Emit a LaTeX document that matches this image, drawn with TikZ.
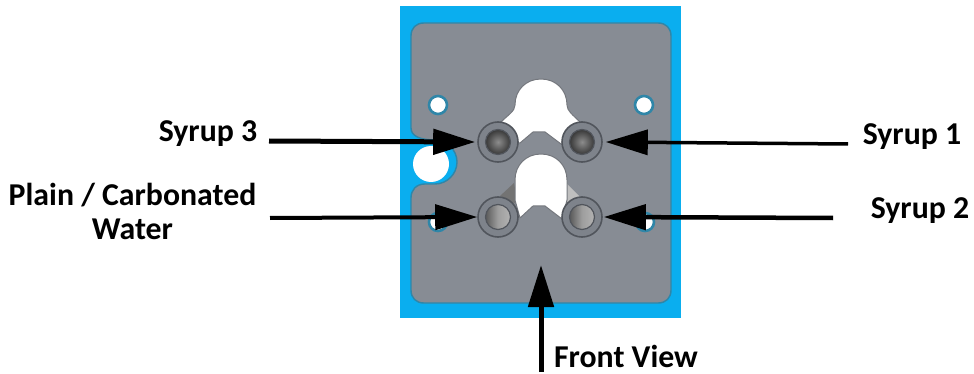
\documentclass[tikz,border=0pt]{standalone}
\usepackage{fontspec}
\setmainfont{Carlito}
\usetikzlibrary{arrows.meta}
\definecolor{plateblue}{HTML}{0AAEEF}
\definecolor{plategray}{HTML}{878C94}
\definecolor{plateedge}{HTML}{2F86A8}
\definecolor{ringgray}{HTML}{7E838B}
\definecolor{ringedge}{HTML}{51555C}
\tikzset{
  x=1pt,y=-1pt,
  lbl/.style={font=\bfseries\fontsize{31.8}{34}\selectfont,text=black,inner sep=0pt,align=center},
  mountring/.style={circle,minimum size=40pt,inner sep=0pt,draw=ringedge,line width=1.6pt,fill=ringgray},
  borehole/.style={circle,minimum size=25pt,inner sep=0pt,draw=ringedge,line width=1.2pt},
  darkbore/.style={borehole,inner color=black!45,outer color=black!78},
  lightbore/.style={borehole,left color=black!65,right color=black!30,middle color=black!38},
  pinhole/.style={circle,minimum size=18pt,inner sep=0pt,draw=plateedge,line width=2.6pt,fill=white},
  port/.style={fill=white,draw=ringedge!80,line width=1pt,line join=round},
  arr/.style={-{Triangle[length=42pt,width=25pt]},black,line width=#1},
  arr/.default=4pt
}
\begin{document}
\begin{tikzpicture}
\useasboundingbox (0,0) rectangle (974,374);
\fill[white] (0,0) rectangle (974,374);
% blue block
\fill[plateblue] (400,6) rectangle (681,318);
% gray plate with the side notch
\draw[fill=plategray,draw=plateedge,line width=1.4pt]
  (411,36) .. controls (411,28) and (416,23) .. (424,23)
  -- (658,23) .. controls (666,23) and (671,28) .. (671,36)
  -- (671,290) .. controls (671,298) and (666,303) .. (658,303)
  -- (424,303) .. controls (416,303) and (411,298) .. (411,290)
  -- (411,198) .. controls (411,190) and (416,184) .. (425,184)
  -- (435,184) .. controls (447,184) and (457,174) .. (457,162)
  .. controls (457,150) and (447,140) .. (435,140)
  .. controls (420,140) and (411,136) .. (411,128) -- cycle;
% side opening
\node[circle,minimum size=36pt,inner sep=0pt,fill=white] (sidehole) at (431,164) {};
% pin holes
\node[pinhole] (pinUL) at (438,105) {};
\node[pinhole] (pinUR) at (644,105) {};
\node[pinhole] (pinLL) at (438,222) {};
\node[pinhole] (pinLR) at (645,222) {};
% upper port
\draw[port] (515,105) .. controls (515,90) and (526,79) .. (541,79)
  .. controls (556,79) and (567,90) .. (567,105)
  .. controls (567,111) and (573,115) .. (580,122)
  -- (595,140) -- (561,144) -- (545,132) -- (533,132) -- (520,143) -- (485,140) -- (501,122)
  .. controls (508,115) and (515,111) .. (515,105) -- cycle;
% lower port wedges
\fill[black!55] (500,196) -- (514,183) -- (518,205) -- cycle;
\fill[black!25] (567,184) -- (581,198) -- (564,208) -- cycle;
% lower port
\draw[port] (515,180) .. controls (515,165) and (526,154) .. (541,154)
  .. controls (556,154) and (567,165) .. (567,180)
  -- (567,200) -- (562,219) -- (545,206) -- (533,206) -- (520,218) -- (515,200) -- cycle;
% mounting rings
\node[mountring] (ringUL) at (498,142) {};
\node[mountring] (ringUR) at (582,142) {};
\node[mountring] (ringLL) at (498,217) {};
\node[mountring] (ringLR) at (582,217) {};
\node[darkbore] (boreUL) at (498,142) {};
\node[darkbore] (boreUR) at (582,142) {};
\node[lightbore] (boreLL) at (498,217) {};
\node[lightbore] (boreLR) at (582,217) {};
% front face reference point
\coordinate (faceFront) at (541,265);
% labels
\node[lbl,anchor=center] (syrupThree) at (208,134) {Syrup 3};
\node[lbl,anchor=center] (syrupOne) at (912,137) {Syrup 1};
\node[lbl,anchor=center] (syrupTwo) at (920,211) {Syrup 2};
\node[lbl,anchor=center] (water) at (132.5,211) {Plain / Carbonated\\Water};
\node[lbl,anchor=center] (front) at (626,356) {Front View};
% tails
\coordinate (tailThree) at (269,141);
\coordinate (tailOne) at (848,144);
\coordinate (tailTwo) at (833,218);
\coordinate (tailWater) at (270,218);
\coordinate (tailFront) at (541,372);
% arrows
\draw[arr=5pt] (tailThree) -- ([xshift=-2pt]ringUL.west);
\draw[arr=3.5pt] (tailOne) -- ([xshift=3pt]ringUR.east);
\draw[arr=4pt] (tailWater) -- (ringLL.west);
\draw[arr=4.5pt] (tailTwo) -- ([xshift=1pt]ringLR.east);
\draw[arr=5pt] (tailFront) -- (faceFront);
\end{tikzpicture}
\end{document}
